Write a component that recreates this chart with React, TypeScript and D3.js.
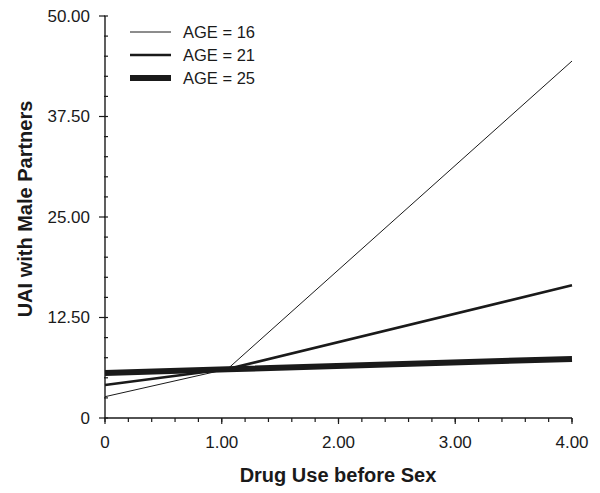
import React from "react";
import * as d3 from "d3";

const drugUse = [0, 1.05, 4];
const age16 = [2.65, 6.1, 44.4];
const age21 = [4.1, 6.1, 16.5];
const age25 = [5.6, 6.05, 7.35];
const seriesNames = ["AGE = 16", "AGE = 21", "AGE = 25"];
const yTicks = [0, 12.5, 25, 37.5, 50];
const yTickLabels = ["0", "12.50", "25.00", "37.50", "50.00"];
const xTicks = [0, 1, 2, 3, 4];
const xTickLabels = ["0", "1.00", "2.00", "3.00", "4.00"];

const W = 600, H = 493;
const left = 105, right = 572, top = 16, bottom = 418;
const font = "'Liberation Sans', Arial, Helvetica, sans-serif";
const ink = "#1a1a1a";

export default function App() {
  const x = d3.scaleLinear().domain([0, 4]).range([left, right]);
  const y = d3.scaleLinear().domain([0, 50]).range([bottom, top]);
  const series = [age16, age21, age25];
  const widths = [1, 2.6, 6];
  const line = d3
    .line<number>()
    .x((_, i) => x(drugUse[i]))
    .y((d) => y(d));
  const yMinor = d3.range(0, 50.001, 2.5);
  const xMinor = d3.range(0, 4.001, 0.2);

  return (
    <svg width={W} height={H} style={{ position: "absolute", left: 0, top: 0, background: "#fff" }}>
      <rect width={W} height={H} fill="#fff" />
      {/* axes */}
      <line x1={left} x2={left} y1={y(50)} y2={bottom} stroke={ink} strokeWidth={1.4} />
      <line x1={left} x2={x(4)} y1={bottom} y2={bottom} stroke={ink} strokeWidth={1.4} />
      {yMinor.map((v, i) => (
        <line key={"ym" + i} x1={left - 1} x2={left + 3} y1={y(v)} y2={y(v)} stroke={ink} strokeWidth={1.2} />
      ))}
      {yTicks.map((v, i) => (
        <g key={"yt" + i}>
          <line x1={left - 6} x2={left} y1={y(v)} y2={y(v)} stroke={ink} strokeWidth={1.2} />
          <text x={left - 15} y={y(v)} dy="0.35em" textAnchor="end" fontFamily={font} fontSize={17} fill={ink}>
            {yTickLabels[i]}
          </text>
        </g>
      ))}
      {xMinor.map((v, i) => (
        <line key={"xm" + i} x1={x(v)} x2={x(v)} y1={bottom} y2={bottom + 4} stroke={ink} strokeWidth={1.2} />
      ))}
      {xTicks.map((v, i) => (
        <g key={"xt" + i}>
          <line x1={x(v)} x2={x(v)} y1={bottom} y2={bottom + 6} stroke={ink} strokeWidth={1.2} />
          <text x={x(v)} y={447.5} textAnchor="middle" fontFamily={font} fontSize={17} fill={ink}>
            {xTickLabels[i]}
          </text>
        </g>
      ))}
      {/* axis titles */}
      <text x={338} y={482} textAnchor="middle" fontFamily={font} fontSize={20} fontWeight="bold" fill={ink}>
        Drug Use before Sex
      </text>
      <text
        transform={`translate(32, 209) rotate(-90)`}
        textAnchor="middle"
        fontFamily={font}
        fontSize={20}
        fontWeight="bold"
        fill={ink}
      >
        UAI with Male Partners
      </text>
      {/* lines */}
      {series.map((s, i) => (
        <path key={"s" + i} d={line(s) || ""} fill="none" stroke={ink} strokeWidth={widths[i]} />
      ))}
      {/* legend */}
      {seriesNames.map((n, i) => {
        const ly = 32 + i * 23;
        return (
          <g key={"lg" + i}>
            <line x1={130} x2={171} y1={ly} y2={ly} stroke={ink} strokeWidth={widths[i]} />
            <text x={183} y={ly} dy="0.35em" fontFamily={font} fontSize={16.5} fill={ink}>
              {n}
            </text>
          </g>
        );
      })}
    </svg>
  );
}
